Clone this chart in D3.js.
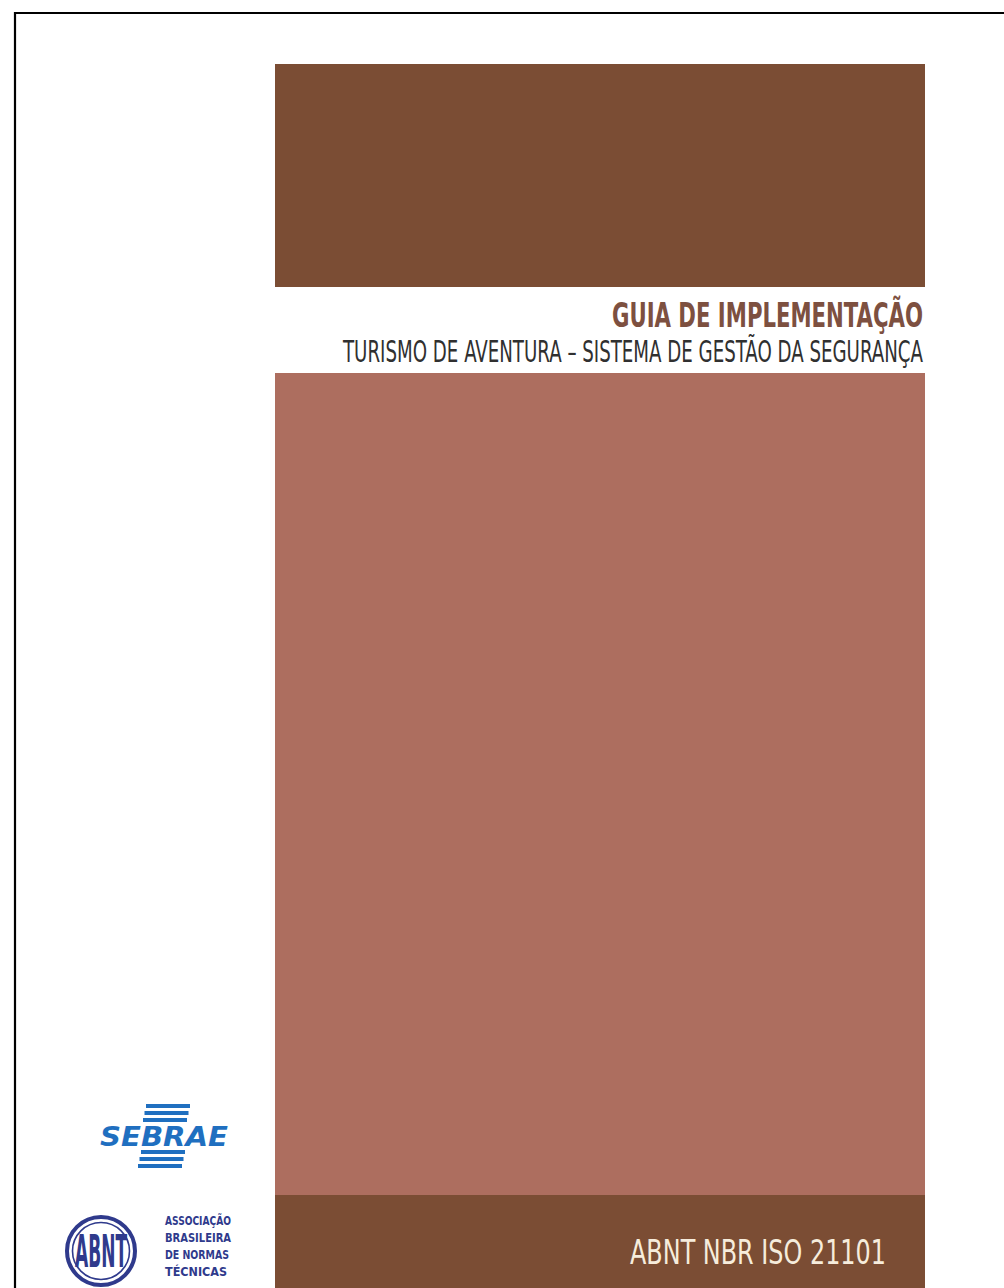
<!DOCTYPE html>
<html>
<head>
<meta charset="utf-8">
<script src="https://cdn.jsdelivr.net/npm/d3@7"></script>
<style>
  html, body { margin: 0; padding: 0; background: #ffffff; }
  svg { display: block; }
</style>
</head>
<body>
<svg id="cover" width="1004" height="1288"></svg>
<script>
// ---- content ----
const sectionNames = ["topo", "centro", "rodapé"];
const sectionColors = ["#7b4d34", "#ad6e5f", "#7b4d34"];
const titleLines = ["GUIA DE IMPLEMENTAÇÃO", "TURISMO DE AVENTURA – SISTEMA DE GESTÃO DA SEGURANÇA"];
const footerText = ["ABNT NBR ISO 21101"];
const logoSebrae = ["SEBRAE"];
const logoAbnt = ["ABNT"];
const abntLines = ["ASSOCIAÇÃO", "BRASILEIRA", "DE NORMAS", "TÉCNICAS"];

// ---- layout ----
const W = 1004, H = 1288;
const svg = d3.select("#cover");
const condensed = "'Liberation Sans Narrow', 'DejaVu Sans Condensed', 'Roboto', sans-serif";

// page frame (black border on top and left)
svg.append("path")
  .attr("d", "M15," + H + " V13 H" + W)
  .attr("fill", "none").attr("stroke", "#000").attr("stroke-width", 2.2);

// vertical bands
const x = d3.scaleLinear().domain([0, 1]).range([275, 925]);
const bounds = [[64, 287], [373, 1195], [1195, 1288]];
svg.selectAll("rect.band")
  .data(sectionNames)
  .join("rect")
  .attr("class", "band")
  .attr("x", x(0))
  .attr("width", x(1) - x(0))
  .attr("y", (d, i) => bounds[i][0])
  .attr("height", (d, i) => bounds[i][1] - bounds[i][0])
  .attr("fill", (d, i) => sectionColors[i]);

// titles
const titleStyle = [
  { y: 327, size: 33, weight: "bold", color: "#7d5040", len: 311 },
  { y: 362, size: 30, weight: "normal", color: "#303030", len: 580 }
];
svg.selectAll("text.title")
  .data(titleLines)
  .join("text")
  .attr("class", "title")
  .attr("x", 923)
  .attr("y", (d, i) => titleStyle[i].y)
  .attr("text-anchor", "end")
  .attr("font-family", condensed)
  .attr("font-size", (d, i) => titleStyle[i].size)
  .attr("font-weight", (d, i) => titleStyle[i].weight)
  .attr("fill", (d, i) => titleStyle[i].color)
  .attr("textLength", (d, i) => titleStyle[i].len)
  .attr("lengthAdjust", "spacingAndGlyphs")
  .text(d => d);

// footer text
svg.selectAll("text.footer")
  .data(footerText)
  .join("text")
  .attr("class", "footer")
  .attr("x", 886).attr("y", 1264)
  .attr("text-anchor", "end")
  .attr("font-family", condensed)
  .attr("font-size", 34)
  .attr("fill", "#f6ecdc")
  .attr("textLength", 256)
  .attr("lengthAdjust", "spacingAndGlyphs")
  .text(d => d);

// ---- SEBRAE logo ----
const sb = svg.append("g").attr("fill", "#1f6fc0");
[1104, 1111, 1118].forEach((yy, i) => {
  sb.append("rect").attr("x", 146 - i * 1.5).attr("y", yy).attr("width", 44).attr("height", 4);
});
[1150, 1157, 1164].forEach((yy, i) => {
  sb.append("rect").attr("x", 141 - i * 1.5).attr("y", yy).attr("width", 44).attr("height", 4);
});
sb.selectAll("text")
  .data(logoSebrae)
  .join("text")
  .attr("x", 100).attr("y", 1146)
  .attr("font-family", "'DejaVu Sans', 'Liberation Sans', sans-serif")
  .attr("font-weight", "bold")
  .attr("font-style", "italic")
  .attr("font-size", 26)
  .attr("textLength", 128)
  .attr("lengthAdjust", "spacingAndGlyphs")
  .text(d => d);

// ---- ABNT logo ----
const navy = "#2f3a8c";
const ab = svg.append("g");
ab.append("circle").attr("cx", 101).attr("cy", 1251).attr("r", 34)
  .attr("fill", "none").attr("stroke", navy).attr("stroke-width", 4);
ab.append("circle").attr("cx", 101).attr("cy", 1251).attr("r", 28.5)
  .attr("fill", "none").attr("stroke", navy).attr("stroke-width", 1.6);
ab.selectAll("text.abnt")
  .data(logoAbnt)
  .join("text")
  .attr("class", "abnt")
  .attr("x", 101).attr("y", 1267)
  .attr("text-anchor", "middle")
  .attr("font-family", condensed)
  .attr("font-weight", "bold")
  .attr("font-size", 44)
  .attr("fill", navy)
  .attr("textLength", 52)
  .attr("lengthAdjust", "spacingAndGlyphs")
  .text(d => d);
ab.selectAll("text.assoc")
  .data(abntLines)
  .join("text")
  .attr("class", "assoc")
  .attr("x", 165)
  .attr("y", (d, i) => 1225 + i * 17)
  .attr("font-family", condensed)
  .attr("font-weight", "bold")
  .attr("font-size", 13)
  .attr("fill", navy)
  .attr("textLength", (d, i) => [66, 66, 64, 62][i])
  .attr("lengthAdjust", "spacingAndGlyphs")
  .text(d => d);
</script>
</body>
</html>
